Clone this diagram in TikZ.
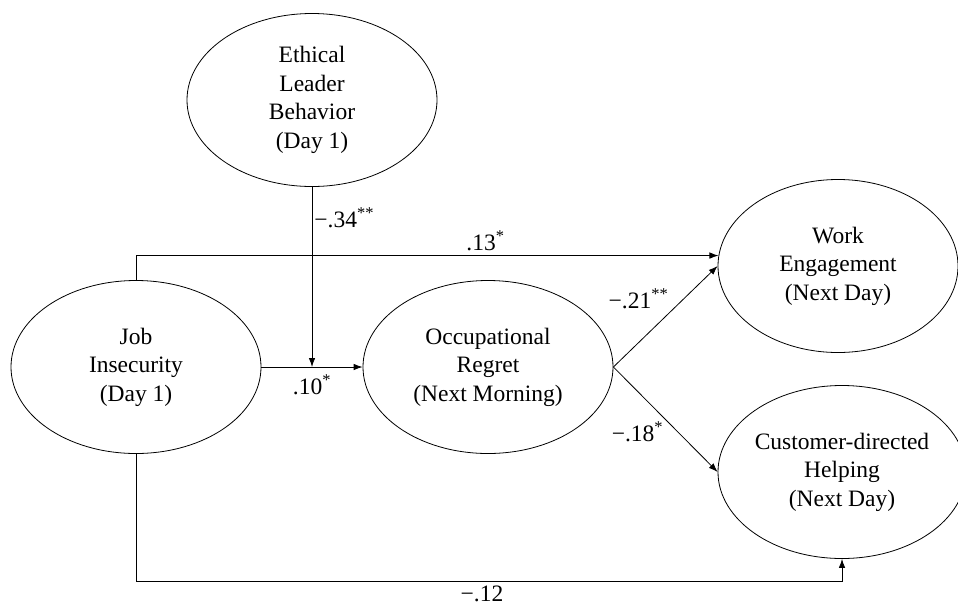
\documentclass[tikz,border=0pt]{standalone}
\usepackage{fontspec}
\setmainfont{Liberation Serif}
\usetikzlibrary{arrows.meta,shapes.geometric}
\tikzset{
  latent/.style={draw, ellipse, line width=0.8pt, minimum width=250pt, minimum height=173pt,
    inner sep=0pt, align=center, font=\fontsize{23.5}{28.5}\selectfont},
  link/.style={-{Latex[length=9pt,width=6.5pt]}, line width=0.8pt},
  coef/.style={font=\fontsize{23.5}{28.5}\selectfont, inner sep=2pt}
}
\newcommand{\sig}[1]{\textsuperscript{#1}}

\begin{document}
\begin{tikzpicture}[x=1pt,y=-1pt]
      \useasboundingbox (0,0) rectangle (958,611);
      \node [latent] (ELB) at (312,100) {Ethical\\Leader\\Behavior\\(Day 1)};
      \node [latent] (JI) at (136,367) {Job\\Insecurity\\(Day 1)};
      \node [latent] (OR) at (488,367) {Occupational\\Regret\\(Next Morning)};
      \node [latent,minimum width=240pt] (WE) at (838,266) {Work\\Engagement\\(Next Day)};
      \node [latent,minimum width=248pt] (CH) at (842,472) {Customer-directed\\Helping\\(Next Day)};
      \coordinate (bot) at (0,581);
      \draw [link] (JI) to node [coef,below=5pt] {.10\sig{*}} (OR);
      \draw [link] (ELB.south) to node [coef,right,pos=.17] {−.34\sig{**}} (ELB.south |- JI.east);
      \draw [link] (JI.north) |- node [coef,above=2pt,pos=.8] {.13\sig{*}} (WE.175);
      \draw [link] (OR.east) to node [coef,above left,pos=.55] {−.21\sig{**}} (WE.west);
      \draw [link] (OR.east) to node [coef,below left,pos=.5] {−.18\sig{*}} (CH.west);
      \draw [link] (JI.south) -- (JI.south |- bot) -- node [coef,below=3pt,pos=.49] {−.12} (CH.south |- bot) -- (CH.south);
    \end{tikzpicture}
\end{document}
